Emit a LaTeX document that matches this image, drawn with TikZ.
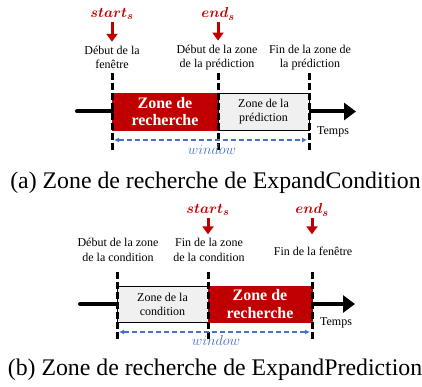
\documentclass[tikz,border=0pt]{standalone}
\usepackage{fontspec}
\setmainfont{Liberation Serif}
\usepackage{amsmath,bm}
\usetikzlibrary{arrows.meta}
\definecolor{zred}{HTML}{C00000}
\definecolor{zgray}{HTML}{F0F0F0}
\definecolor{wblue}{HTML}{4472C4}
\begin{document}
\begin{tikzpicture}[x=1pt,y=-1pt,
  lbl/.style={font=\fontsize{12}{14.5}\selectfont, align=center, inner sep=0pt},
  redzone/.style={fill=zred, draw=zred, text=white, font=\fontsize{16}{17.5}\selectfont\bfseries, align=center, inner sep=0pt, minimum height=37pt},
  grayzone/.style={fill=zgray, draw=black, line width=0.6pt, font=\fontsize{12}{14}\selectfont, align=center, inner sep=0pt, minimum height=37pt},
  vline/.style={line width=3pt, dash pattern=on 7pt off 3pt},
  axisline/.style={line width=4pt, line cap=round},
  axisarrow/.style={line width=4pt, -{Triangle[length=12pt,width=17pt]}},
  redarrow/.style={zred, line width=3pt, -{Triangle[length=8pt,width=11pt]}},
  winarrow/.style={wblue, line width=1.2pt, dash pattern=on 5pt off 3pt, {Latex[length=5pt,width=5pt]}-{Latex[length=5pt,width=5pt]}, shorten <=2pt, shorten >=2pt},
  mathlbl/.style={zred, font=\fontsize{15}{17}\selectfont, inner sep=0pt},
  winlbl/.style={wblue, font=\fontsize{14.5}{16}\selectfont, inner sep=0pt},
  caption/.style={font=\fontsize{23.8}{26}\selectfont, inner sep=0pt}
]
\useasboundingbox (0,0) rectangle (422,387);

% ---------- panel (a) ----------
\node[redzone, minimum width=106pt] (ra) at (165,111.5) {Zone de\\recherche};
\node[grayzone, minimum width=91pt] (ga) at (263.5,111.5) {Zone de la\\prédiction};
\coordinate (a0) at (77,111.5);
\coordinate (aend) at (356,111.5);
\draw[axisline] (a0) -- (ra.west);
\draw[axisarrow] (ga.east) -- (aend);
\coordinate (a1t) at (112,73); \coordinate (a1b) at (112,150);
\coordinate (a2t) at (218,73); \coordinate (a2b) at (218,150);
\coordinate (a3t) at (309,73); \coordinate (a3b) at (309,150);
\draw[vline] (a1t) -- (a1b);
\draw[vline] (a2t) -- (a2b);
\draw[vline] (a3t) -- (a3b);
\node[lbl] (la1) at (112,57.5) {Début de la\\fenêtre};
\node[lbl] (la2) at (217,57.5) {Début de la zone\\de la prédiction};
\node[lbl] (la3) at (310,57.5) {Fin de la zone de\\la prédiction};
\node[mathlbl] (sa) at (112,14) {$\boldsymbol{start_s}$};
\node[mathlbl] (ea) at (218,14) {$\boldsymbol{end_s}$};
\draw[redarrow, shorten <=2pt, shorten >=4pt] (sa.south) -- (la1.north);
\draw[redarrow, shorten <=2pt, shorten >=4pt] (ea.south) -- (ea.south |- la2.north);
\node[lbl] (ta) at (333,132) {Temps};
\coordinate (wa1) at (112,140);
\coordinate (wa2) at (309,140);
\draw[winarrow] (wa1) -- (wa2);
\node[winlbl] (wa) at (212,150) {$window$};
\node[caption] (capa) at (215.5,183) {(a) Zone de recherche de ExpandCondition};

% ---------- panel (b) ----------
\node[grayzone, minimum width=91pt, minimum height=36pt] (gb) at (162.5,304) {Zone de la\\condition};
\node[redzone, minimum width=104pt, minimum height=36pt] (rb) at (260,304) {Zone de\\recherche};
\coordinate (b0) at (80,304);
\coordinate (bend) at (355,304);
\draw[axisline] (b0) -- (gb.west);
\draw[axisarrow] (rb.east) -- (bend);
\coordinate (b1t) at (117,272); \coordinate (b1b) at (117,340);
\coordinate (b2t) at (208,272); \coordinate (b2b) at (208,340);
\coordinate (b3t) at (312,272); \coordinate (b3b) at (312,340);
\draw[vline] (b1t) -- (b1b);
\draw[vline] (b2t) -- (b2b);
\draw[vline] (b3t) -- (b3b);
\node[lbl] (lb1) at (118,250) {Début de la zone\\de la condition};
\node[lbl] (lb2) at (209,250) {Fin de la zone\\de la condition};
\node[lbl] (lb3) at (313,251) {Fin de la fenêtre};
\node[mathlbl] (sb) at (208,210) {$\boldsymbol{start_s}$};
\node[mathlbl] (eb) at (312,210) {$\boldsymbol{end_s}$};
\draw[redarrow, shorten <=2pt, shorten >=4pt] (sb.south) -- (sb.south |- lb2.north);
\draw[redarrow, shorten <=2pt, shorten >=4pt] (eb.south) -- (eb.south |- lb2.north);
\node[lbl] (tb) at (336,323) {Temps};
\coordinate (wb1) at (117,332);
\coordinate (wb2) at (312,332);
\draw[winarrow] (wb1) -- (wb2);
\node[winlbl] (wb) at (216,340) {$window$};
\node[caption] (capb) at (215,370) {(b) Zone de recherche de ExpandPrediction};
\end{tikzpicture}
\end{document}
